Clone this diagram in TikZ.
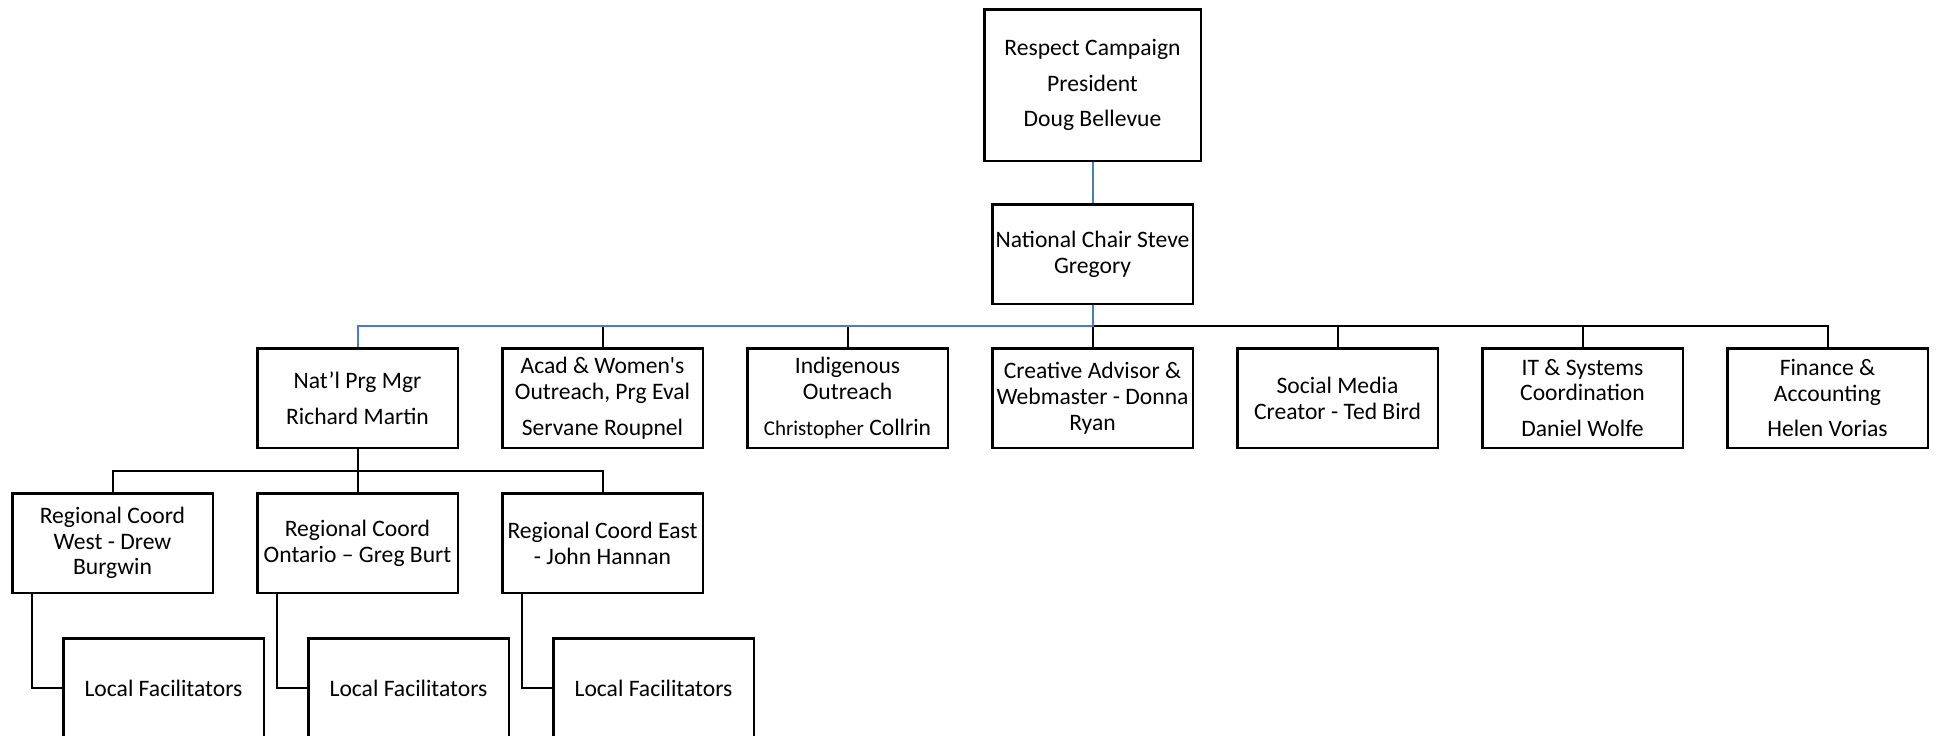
\documentclass[tikz,border=0pt]{standalone}
\usepackage{fontspec}
\newfontfamily\calibri{Carlito}
\usetikzlibrary{positioning}
\definecolor{linkblue}{RGB}{74,126,187}

\begin{document}
\begin{tikzpicture}[x=0.5pt, y=-0.5pt, node distance=21pt]
    \tikzset{
      box/.style={rectangle, draw, line width=1.25pt, align=center,
        minimum width=100.25pt, minimum height=49.75pt,
        inner xsep=0.5pt, inner ysep=1pt,
        font=\calibri\fontsize{11.8pt}{12.9pt}\selectfont},
      conn/.style={line width=1pt},
      blueconn/.style={line width=1pt, draw=linkblue}
    }
    \useasboundingbox (0,0) rectangle (1939,735);
    \node[box, minimum width=108.25pt, minimum height=75.75pt] (pres) at (1092.5,85)
      {Respect Campaign\\[5pt]President\\[5pt]Doug Bellevue};
    \node[box, below=20.5pt of pres] (chair) {National Chair Steve\\Gregory};
    % second row
    \node[box, below=21pt of chair] (creative) {Creative Advisor \&\\Webmaster - Donna\\Ryan};
    \node[box, left=of creative] (indig) {Indigenous\\Outreach\\[5pt]{\fontsize{10.5pt}{12pt}\selectfont Christopher} Collrin};
    \node[box, left=of indig] (acad) {Acad \& Women's\\Outreach, Prg Eval\\[5pt]Servane Roupnel};
    \node[box, left=of acad] (natl) {Nat’l Prg Mgr\\[5pt]Richard Martin};
    \node[box, right=of creative] (social) {Social Media\\Creator - Ted Bird};
    \node[box, right=of social] (itsys) {IT \& Systems\\Coordination\\[5pt]Daniel Wolfe};
    \node[box, right=of itsys] (fin) {Finance \&\\Accounting\\[5pt]Helen Vorias};
    % regional row
    \node[box, below=21.5pt of natl] (ontario) {Regional Coord\\Ontario – Greg Burt};
    \node[box, left=of ontario] (west) {Regional Coord\\West - Drew\\Burgwin};
    \node[box, right=of ontario] (east) {Regional Coord East\\- John Hannan};
    \node[box, below=21.5pt of west, xshift=25.5pt] (lfwest) {Local Facilitators};
    \node[box, below=21.5pt of ontario, xshift=25.5pt] (lfont) {Local Facilitators};
    \node[box, below=21.5pt of east, xshift=25.5pt] (lfeast) {Local Facilitators};

    \path (chair.south) -- (creative.north) coordinate[midway] (bus);
    \path (natl.south) -- (ontario.north) coordinate[midway] (rbus);

    \draw[conn] (acad.north) |- (bus) -| (fin.north);
    \foreach \n in {indig,creative,social,itsys}
      \draw[conn] (\n.north) -- (\n.north |- bus);
    \draw[blueconn] (pres) -- (chair);
    \draw[blueconn] (chair.south) -- (bus) -| (natl.north);

    \draw[conn] (natl.south) -- (ontario.north);
    \draw[conn] (west.north) |- (rbus) -| (east.north);
    \draw[conn] ([xshift=10.5pt]west.south west) |- (lfwest.west);
    \draw[conn] ([xshift=10.5pt]ontario.south west) |- (lfont.west);
    \draw[conn] ([xshift=10.5pt]east.south west) |- (lfeast.west);
  \end{tikzpicture}
\end{document}
